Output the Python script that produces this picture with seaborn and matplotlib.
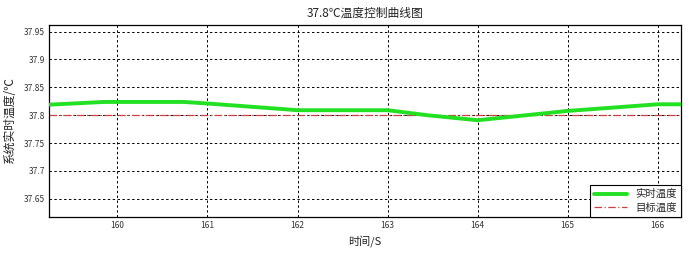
import matplotlib
matplotlib.use("Agg")
import matplotlib.pyplot as plt
import seaborn as sns
import pandas as pd
import numpy as np

# Data
time_s = [159.25, 159.85, 160.74, 161.0, 162.0, 163.0, 163.44, 164.0, 165.0, 166.0, 166.26]
real_temp = [37.819, 37.8238, 37.8238, 37.821, 37.809, 37.809, 37.800, 37.791, 37.8077, 37.8196, 37.8196]
target_time = [159.24, 166.26]
target_temp = [37.8, 37.8]
x_ticks = [160, 161, 162, 163, 164, 165, 166]
y_ticks = [37.65, 37.7, 37.75, 37.8, 37.85, 37.9, 37.95]
y_tick_labels = ["37.65", "37.7", "37.75", "37.8", "37.85", "37.9", "37.95"]
series_labels = ["实时温度", "目标温度"]
title = "37.8℃温度控制曲线图"
xlabel = "时间/S"
ylabel = "系统实时温度/℃"

sns.set_style("white")
plt.rcParams['font.family'] = ['Noto Sans CJK SC', 'DejaVu Sans']

df_real = pd.DataFrame({"t": time_s, "v": real_temp})
df_target = pd.DataFrame({"t": target_time, "v": target_temp})

fig = plt.figure(figsize=(7, 2.57), dpi=100)
ax = fig.add_axes([0.070, 0.157, 0.903, 0.746])

sns.lineplot(data=df_real, x="t", y="v", ax=ax, color="#22e022", linewidth=2.8,
             label=series_labels[0], zorder=3)
sns.lineplot(data=df_target, x="t", y="v", ax=ax, color="#d04040", linewidth=0.9,
             linestyle=(0, (6, 2, 1, 2)), label=series_labels[1], zorder=2)

ax.set_xlim(159.24, 166.26)
ax.set_ylim(37.618, 37.962)
ax.set_xticks(x_ticks)
ax.set_xticklabels([str(v) for v in x_ticks])
ax.set_yticks(y_ticks)
ax.set_yticklabels(y_tick_labels)
ax.tick_params(axis='both', direction='in', length=3, width=0.8, labelsize=6,
               colors='black', labelcolor='#333333', pad=3)
ax.grid(True, color='black', linestyle=(0, (2.5, 2.5)), linewidth=0.7)
for s in ax.spines.values():
    s.set_color('black')
    s.set_linewidth(0.9)

ax.set_title(title, fontsize=8.5, color='#222222', pad=6)
ax.set_xlabel(xlabel, fontsize=8, color='#222222', labelpad=4)
ax.set_ylabel(ylabel, fontsize=8.5, color='#222222')
ax.yaxis.set_label_coords(-0.052, 0.5)

leg = ax.legend(loc='lower right', fontsize=7.5, frameon=True, fancybox=False,
                borderpad=0.4, handlelength=3.2, labelspacing=0.3,
                borderaxespad=0.0)
leg.get_frame().set_edgecolor('black')
leg.get_frame().set_linewidth(0.8)
leg.get_frame().set_alpha(1.0)

fig.savefig("out.png", dpi=100)
